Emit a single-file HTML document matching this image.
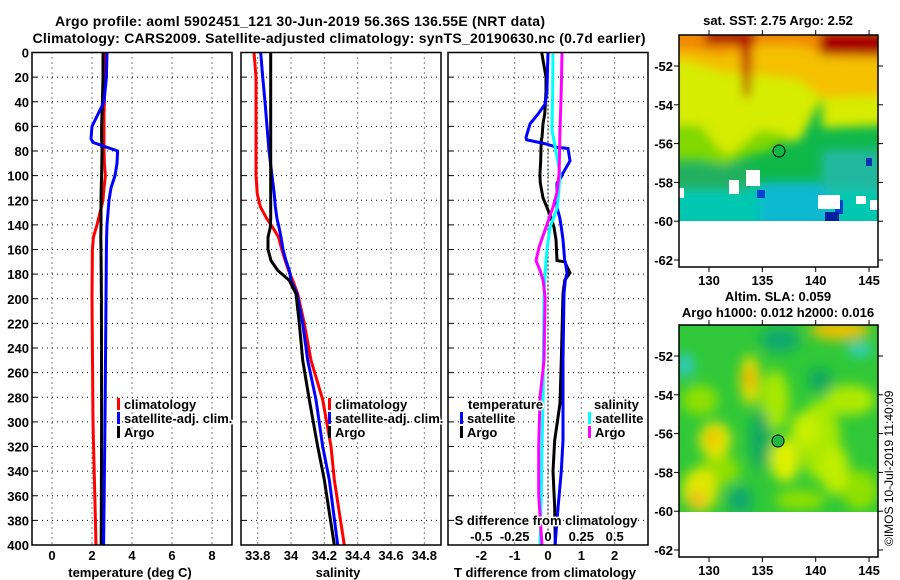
<!DOCTYPE html>
<html><head><meta charset="utf-8">
<style>
html,body{margin:0;padding:0;background:#fff;}
svg{display:block;font-family:"Liberation Sans",Arial,sans-serif;}
.b{font-weight:bold;font-size:13px;fill:#000;}
.t{font-weight:bold;font-size:14px;fill:#000;}
.halo{paint-order:stroke;stroke:#fff;stroke-width:3px;stroke-linejoin:round;}
</style></head>
<body>
<svg id="chart" width="900" height="580" viewBox="0 0 900 580">
<defs>
<filter id="blur4" x="-20%" y="-20%" width="140%" height="140%"><feGaussianBlur stdDeviation="5"/></filter>
<filter id="blur6" x="-30%" y="-30%" width="160%" height="160%"><feGaussianBlur stdDeviation="6"/></filter>
<clipPath id="clipTop"><rect x="679" y="35" width="199" height="186"/></clipPath>
<clipPath id="clipBot"><rect x="679" y="325" width="199" height="187"/></clipPath>
</defs>
<text class="t" x="300" y="26" text-anchor="middle" textLength="490">Argo profile: aoml 5902451_121 30-Jun-2019 56.36S 136.55E (NRT data)</text>
<text class="t" x="339" y="43" text-anchor="middle" textLength="613">Climatology: CARS2009. Satellite-adjusted climatology: synTS_20190630.nc (0.7d earlier)</text>

<g id="grid"></g>
<g id="lines"></g>
<g id="axes"></g>

<!-- SST map -->
<g>
<text class="b" x="778" y="25" text-anchor="middle">sat. SST: 2.75 Argo: 2.52</text>
<g clip-path="url(#clipTop)">
<rect x="679" y="35" width="199" height="186" fill="#10b84a"/>
<g filter="url(#blur4)">
<polygon points="670,25 890,25 890,125 822,128 822,98 800,140 780,142 765,140 740,150 725,160 712,158 700,150 670,148" fill="#d6ec00"/>
<polygon points="670,125 700,125 720,150 730,155 760,130 790,135 770,150 750,155 725,165 700,160 670,160" fill="#80d800"/>
<polygon points="670,25 890,25 890,95 822,98 800,80 760,75 720,72 690,62 670,60" fill="#f4c000"/>
<polygon points="670,25 890,25 890,58 830,56 800,45 760,45 720,55 690,50 670,50" fill="#f08a00"/>
<rect x="820" y="30" width="70" height="25" fill="#a80000"/>
<rect x="705" y="30" width="50" height="14" fill="#a80000"/>
<polygon points="740,40 752,40 750,95 744,98" fill="#b81000"/>
<rect x="670" y="185" width="220" height="45" fill="#00c8b0"/>
<rect x="760" y="182" width="70" height="45" fill="#10b8d0"/>
<rect x="822" y="150" width="60" height="40" fill="#20b8a0"/>
<rect x="670" y="165" width="80" height="25" fill="#20b060"/>
</g>
<rect x="757" y="190" width="8" height="8" fill="#0040d0"/>
<rect x="835" y="200" width="8" height="14" fill="#0040d0"/>
<rect x="825" y="212" width="14" height="9" fill="#0020a0"/>
<rect x="866" y="158" width="6" height="8" fill="#0030b0"/>
<rect x="746" y="170" width="14" height="16" fill="#fff"/>
<rect x="729" y="180" width="10" height="14" fill="#fff"/>
<rect x="679" y="188" width="5" height="10" fill="#fff"/>
<rect x="818" y="195" width="22" height="14" fill="#fff"/>
<rect x="856" y="196" width="10" height="8" fill="#fff"/>
<rect x="870" y="200" width="8" height="10" fill="#fff"/>
</g>
<circle cx="779" cy="151" r="6" fill="#10b84a" stroke="#000" stroke-width="1"/>
<rect x="679" y="35" width="199" height="232" fill="none" stroke="#000" stroke-width="1.5"/>
</g>

<!-- SLA map -->
<g>
<text class="b" x="778" y="301" text-anchor="middle">Altim. SLA: 0.059</text>
<text class="b" x="778" y="317" text-anchor="middle">Argo h1000: 0.012 h2000: 0.016</text>
<g clip-path="url(#clipBot)">
<rect x="679" y="325" width="199" height="187" fill="#30c838"/>
<g filter="url(#blur6)">
<ellipse cx="775" cy="400" rx="14" ry="30" fill="#a8e800"/>
<ellipse cx="820" cy="440" rx="20" ry="40" fill="#a8e800"/>
<ellipse cx="850" cy="400" rx="25" ry="15" fill="#b0ea00"/>
<ellipse cx="700" cy="400" rx="18" ry="15" fill="#90e000"/>
<ellipse cx="720" cy="470" rx="20" ry="15" fill="#90e000"/>
<ellipse cx="860" cy="490" rx="18" ry="20" fill="#90e000"/>
<ellipse cx="800" cy="500" rx="25" ry="10" fill="#90e000"/>
<ellipse cx="750" cy="380" rx="10" ry="25" fill="#e8e000"/>
<ellipse cx="749" cy="378" rx="5" ry="10" fill="#f0a000"/>
<ellipse cx="715" cy="440" rx="16" ry="18" fill="#e8e800"/>
<ellipse cx="713" cy="438" rx="6" ry="8" fill="#f0b000"/>
<ellipse cx="700" cy="490" rx="18" ry="22" fill="#e0e800"/>
<ellipse cx="697" cy="500" rx="8" ry="8" fill="#f0b020"/>
<ellipse cx="840" cy="330" rx="30" ry="10" fill="#f0c000"/>
<ellipse cx="785" cy="460" rx="15" ry="22" fill="#e0f000"/>
<ellipse cx="805" cy="430" rx="14" ry="18" fill="#c8f000"/>
<ellipse cx="835" cy="470" rx="14" ry="25" fill="#c0ee00"/>
<ellipse cx="780" cy="340" rx="20" ry="12" fill="#10a870"/>
<ellipse cx="740" cy="500" rx="12" ry="14" fill="#10a870"/>
<ellipse cx="685" cy="365" rx="9" ry="12" fill="#30c8c8"/>
<ellipse cx="860" cy="350" rx="12" ry="6" fill="#30d0e0"/>
<ellipse cx="820" cy="380" rx="12" ry="12" fill="#10a860"/>
<ellipse cx="760" cy="440" rx="10" ry="30" fill="#10a860"/>
</g>
</g>
<circle cx="778" cy="441" r="6" fill="#20b840" stroke="#000" stroke-width="1"/>
<rect x="679" y="325" width="199" height="232" fill="none" stroke="#000" stroke-width="1.5"/>
</g>
<g id="mapaxes"></g>
<text x="0" y="0" font-size="12" fill="#000" transform="translate(893,546) rotate(-90)">©IMOS 10-Jul-2019 11:40:09</text>
</svg>
<script>
// ---- data ----
const tempDepth=[0,20,40,50,60,70,73,80,90,100,110,120,130,140,150,160,200,300,400];
const tempArgo =[2.55,2.55,2.52,2.5,2.48,2.48,2.49,2.5,2.49,2.48,2.46,2.45,2.45,2.45,2.44,2.45,2.47,2.48,2.46];
const tempClim =[2.65,2.64,2.62,2.6,2.6,2.6,2.6,2.6,2.62,2.67,2.6,2.55,2.4,2.25,2.07,2.02,2.0,2.05,2.2];
const tempSat  =[2.75,2.72,2.6,2.3,2.0,1.95,2.05,3.28,3.25,3.15,2.95,2.85,2.8,2.75,2.73,2.72,2.7,2.65,2.58];
const salDepth=[0,20,40,60,80,100,115,125,135,142,150,160,169,177,185,196,220,250,282,320,347,400];
const salArgo =[33.878,33.878,33.878,33.878,33.878,33.878,33.878,33.878,33.878,33.876,33.862,33.862,33.88,33.92,33.99,34.03,34.05,34.07,34.11,34.16,34.2,34.26];
const salSat  =[33.818,33.83,33.844,33.856,33.868,33.886,33.9,33.906,33.916,33.928,33.94,33.952,33.97,33.99,34.0,34.036,34.07,34.1,34.15,34.19,34.23,34.28];
const salClim =[33.778,33.79,33.79,33.79,33.79,33.79,33.798,33.815,33.855,33.89,33.925,33.945,33.965,33.985,34.01,34.04,34.08,34.12,34.19,34.24,34.26,34.32];
const tdDepth=[0,20,31,42,50,58,69,71,74,77,78,88,98,101,106,118,126,134,142,152,169,170,179,185,196,250,285,315,340,370,400];
const tdArgo =[-0.19,-0.06,-0.06,-0.08,-0.1,-0.15,-0.18,-0.2,-0.2,-0.21,-0.21,-0.22,-0.24,-0.24,-0.23,-0.15,-0.03,0.09,0.18,0.24,0.27,0.5,0.66,0.5,0.45,0.4,0.36,0.2,0.15,0.2,0.22];
const tdSat  =[0.0,-0.02,-0.03,-0.09,-0.3,-0.54,-0.66,-0.64,-0.1,0.27,0.6,0.66,0.45,0.4,0.27,0.27,0.27,0.35,0.4,0.45,0.5,0.52,0.57,0.52,0.48,0.45,0.45,0.45,0.4,0.3,0.21];
const sdDepth=[0,30,63,98,114,126,142,158,169,177,185,199,250,280,320,360,400];
const sdArgo =[0.105,0.1,0.09,0.083,0.067,0.037,-0.015,-0.067,-0.09,-0.06,-0.037,-0.022,-0.03,-0.06,-0.07,-0.07,-0.045];
const sdSat  =[0.037,0.035,0.03,0.09,0.08,0.07,0.015,-0.005,-0.015,-0.02,-0.025,-0.03,-0.035,-0.037,-0.045,-0.05,-0.06];
const depthTicks=[0,20,40,60,80,100,120,140,160,180,200,220,240,260,280,300,320,340,360,380,400];
const tempTicks=[0,2,4,6,8];
const salTicks=[33.8,34,34.2,34.4,34.6,34.8];
const tdTicks=[-2,-1,0,1,2];
const sdTicks=[-0.5,-0.25,0,0.25,0.5];
const lonTicks=[130,135,140,145];
const latTicks=[-52,-54,-56,-58,-60,-62];

// ---- scales ----
const Y0=52.5,Y1=545;
const yD=d=>Y0+(d/400)*(Y1-Y0);
const panels=[{x0:32,x1:232,min:-1,max:9},{x0:241,x1:441,min:33.7,max:34.9},{x0:448,x1:648,min:-3,max:3}];
const xS=(p,v)=>p.x0+(v-p.min)/(p.max-p.min)*(p.x1-p.x0);
const xSd=v=>xS(panels[2],v*4);
const NS='http://www.w3.org/2000/svg';
function mk(tag,attrs,parent){const e=document.createElementNS(NS,tag);for(const k in attrs)e.setAttribute(k,attrs[k]);parent.appendChild(e);return e;}
const grid=document.getElementById('grid'),lines=document.getElementById('lines'),axes=document.getElementById('axes');

function txt(parent,x,y,s,anchor,cls){const t=mk('text',{x:x,y:y,'text-anchor':anchor,class:cls||'b'},parent);t.textContent=s;return t;}

panels.forEach((p,i)=>{
  depthTicks.forEach(d=>{
    if(d>0&&d<400){const l=mk('line',{x1:p.x0,x2:p.x1,y1:yD(d),y2:yD(d),stroke:'#000','stroke-width':1,'stroke-dasharray':'1,4'},grid);
    
    }
    mk('line',{x1:p.x0,x2:p.x0+5,y1:yD(d),y2:yD(d),stroke:'#000'},axes);
  });
  const ticks=i===0?tempTicks:(i===1?salTicks:tdTicks);
  ticks.forEach(v=>{
    const x=xS(p,v);
    const l=mk('line',{x1:x,x2:x,y1:Y0,y2:Y1,stroke:'#000','stroke-width':1,'stroke-dasharray':(i===2&&v===0)?'2,2':'1,4'},grid);
    
    
    const t=txt(axes,x,560,String(v),'middle');
    
    
  });
  const r=mk('rect',{x:p.x0,y:Y0,width:p.x1-p.x0,height:Y1-Y0,fill:'none',stroke:'#000','stroke-width':1.5},axes);
  
  
});
depthTicks.forEach(d=>{const t=txt(axes,29,yD(d)+5,String(d),'end');
  
  });
sdTicks.forEach(v=>{const t=txt(axes,xSd(v),541,String(v),'middle','b halo');
  
  });
let t;
t=txt(axes,546,525,'S difference from climatology','middle','b halo');


t=txt(axes,130,577,'temperature (deg C)','middle');


t=txt(axes,338,577,'salinity','middle');


t=txt(axes,545,577,'T difference from climatology','middle');



function series(p,depths,vals,color,name,fx){
  const pts=depths.map((d,k)=>(fx?fx(vals[k]):xS(p,vals[k])).toFixed(1)+','+yD(d).toFixed(1)).join(' ');
  const pl=mk('polyline',{points:pts,fill:'none',stroke:color,'stroke-width':3,'stroke-linejoin':'miter'},lines);
  
  
}
series(panels[0],tempDepth,tempClim,'#ff0000','temperature-climatology-line');
series(panels[0],tempDepth,tempArgo,'#000000','temperature-argo-line');
series(panels[0],tempDepth,tempSat,'#0000ff','temperature-satellite-line');
series(panels[1],salDepth,salClim,'#ff0000','salinity-climatology-line');
series(panels[1],salDepth,salSat,'#0000ff','salinity-satellite-line');
series(panels[1],salDepth,salArgo,'#000000','salinity-argo-line');
series(panels[2],tdDepth,tdArgo,'#000000','tdiff-argo-line');
series(panels[2],tdDepth,tdSat,'#0000ff','tdiff-satellite-line');
series(panels[2],sdDepth,sdSat,'#00ffff','sdiff-satellite-line',xSd);
series(panels[2],sdDepth,sdArgo,'#ff00ff','sdiff-argo-line',xSd);

function legendRow(x,y,color,label,tx){
  const g=mk('g',{},axes);
  
  
  if(color) mk('rect',{x:x,y:y-10,width:3,height:12,fill:color},g);
  txt(g,tx!==undefined?tx:x+7,y+1,label,'start','b halo');
}
legendRow(117,408,'#ff0000','climatology');
legendRow(117,422,'#0000ff','satellite-adj. clim.');
legendRow(117,436,'#000000','Argo');
legendRow(328,408,'#ff0000','climatology');
legendRow(328,422,'#0000ff','satellite-adj. clim.');
legendRow(328,436,'#000000','Argo');
legendRow(460,408,null,'temperature',468);
legendRow(460,422,'#0000ff','satellite');
legendRow(460,436,'#000000','Argo');
legendRow(588,408,null,'salinity',594);
legendRow(588,422,'#00ffff','satellite');
legendRow(588,436,'#ff00ff','Argo');

// map axes
const ma=document.getElementById('mapaxes');
const lonX=l=>709+(l-130)*10.67;
[[35,267,66],[325,557,356]].forEach(([top,bot,y52])=>{
  lonTicks.forEach(l=>{
    const x=lonX(l);
    mk('line',{x1:x,x2:x,y1:bot,y2:bot+5,stroke:'#000'},ma);
    mk('line',{x1:x,x2:x,y1:top,y2:top-5,stroke:'#000'},ma);
    const tt=txt(ma,x,bot+18,String(l),'middle');
    
    
  });
  latTicks.forEach(la=>{
    const y=y52+(-52-la)*19.4;
    mk('line',{x1:878,x2:883,y1:y,y2:y,stroke:'#000'},ma);
    mk('line',{x1:674,x2:679,y1:y,y2:y,stroke:'#000'},ma);
    const tt=txt(ma,673,y+5,String(la),'end');
    
    
  });
});
</script>
</body></html>
